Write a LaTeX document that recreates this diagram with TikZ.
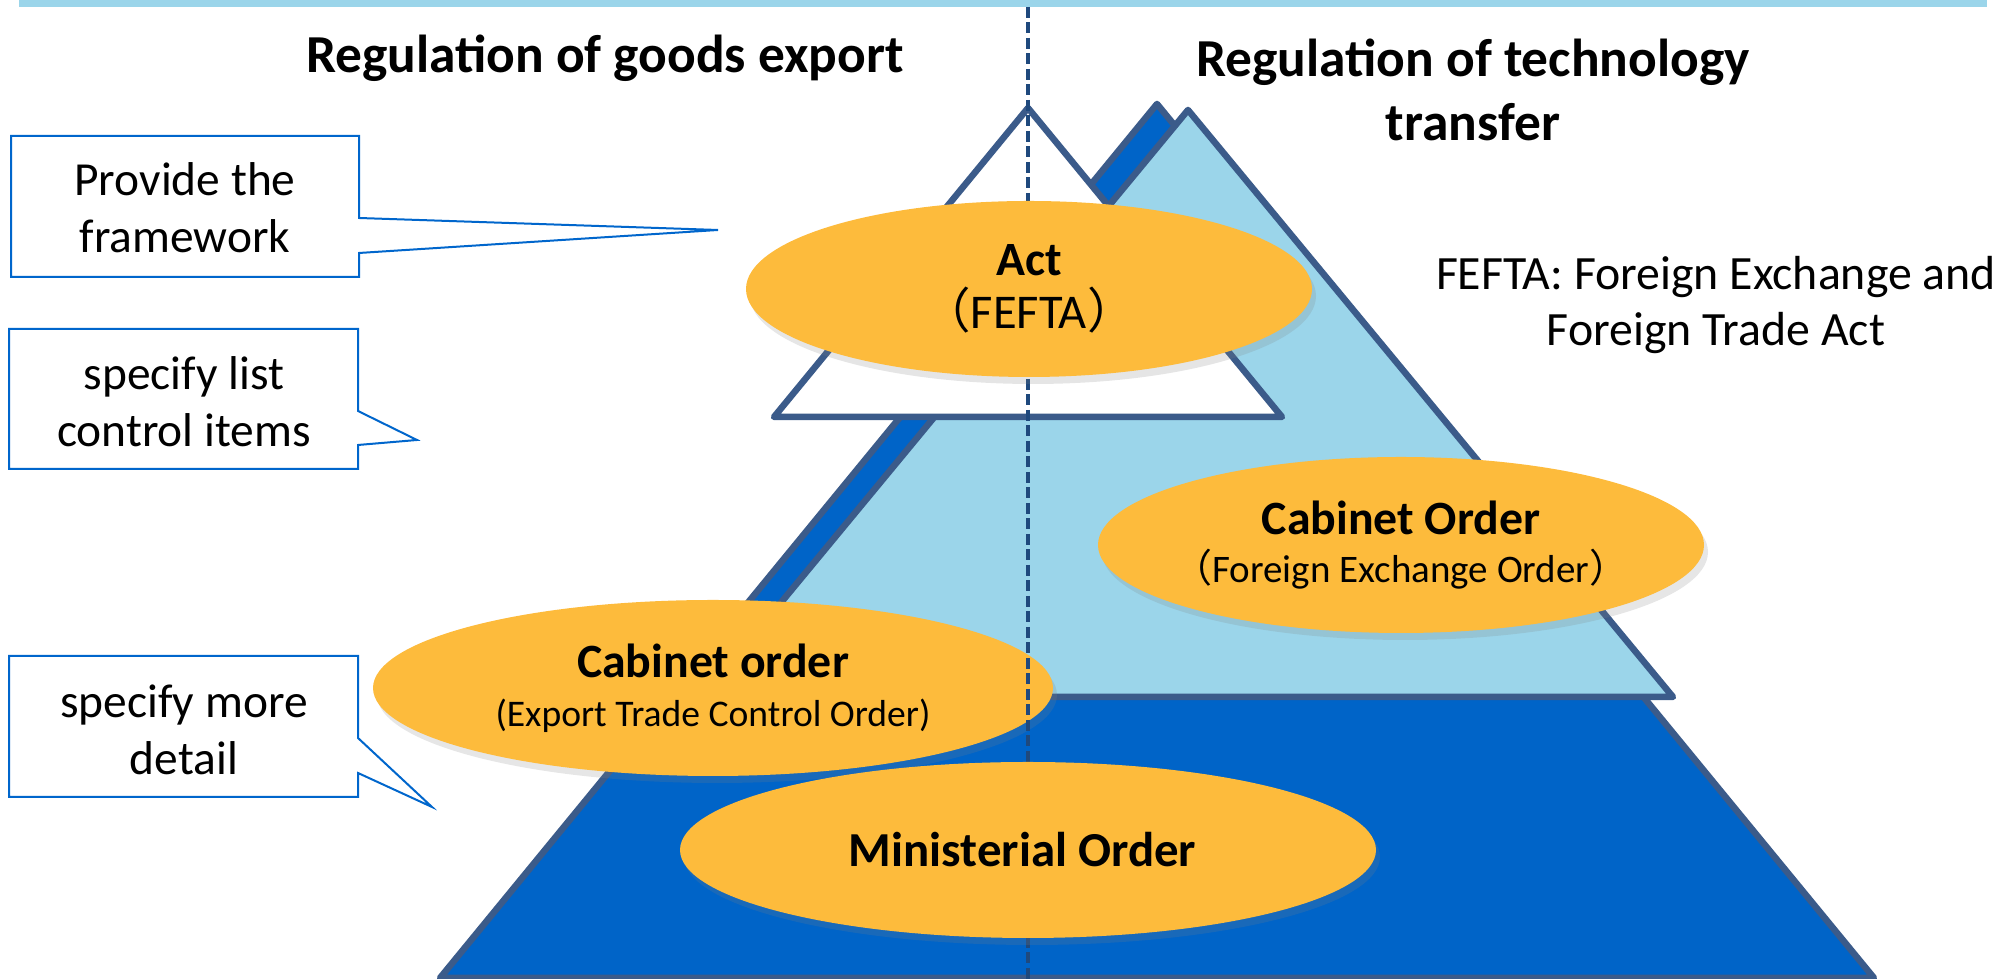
\documentclass[tikz,border=0pt]{standalone}
\usepackage{fontspec}
\setmainfont{Carlito}
\newfontfamily\cjk{Noto Sans CJK SC}
\usepackage{tikz}
\usetikzlibrary{shapes.geometric, shadows, positioning}
\definecolor{SkyFill}{RGB}{155,213,234}
\definecolor{RoyalFill}{RGB}{0,100,200}
\definecolor{EdgeSlate}{RGB}{59,91,138}
\definecolor{DashNavy}{RGB}{31,73,125}
\definecolor{AmberFill}{RGB}{253,187,60}
\definecolor{NoteBlue}{RGB}{0,102,204}

\begin{document}
\begin{tikzpicture}[x=0.1mm, y=-0.1mm,
		% the three pyramid layers
		tier/.style={draw=EdgeSlate, line width=0.65mm, line join=round},
		% the orange ovals
		orderOval/.style={
			ellipse,
			fill=AmberFill,
			inner sep=0pt,
			inner xsep=-2mm,
			align=center,
			minimum height=17.6mm,
			font=\fontsize{13.6}{15}\selectfont,
			drop shadow={shadow xshift=0.4mm, shadow yshift=-0.7mm, opacity=0.2}
		},
		noteBox/.style={draw=NoteBlue, line width=0.2mm, fill=white, line join=miter},
		noteText/.style={align=center, font=\fontsize{13.5}{16.2}\selectfont},
		headText/.style={align=center, font=\bfseries\fontsize{15.2}{18.2}\selectfont},
		splitLine/.style={DashNavy, line width=0.35mm, dash pattern=on 1.1mm off 0.45mm}
		]
		\useasboundingbox (0,0) rectangle (2009,979);
		
		% top band
		\fill[SkyFill] (19,0) rectangle (1987,7);
		
		% back layer: ministerial order
		\draw[tier, fill=RoyalFill] (1157,104) -- (1874,978) -- (440,978) -- cycle;
		% middle layer: cabinet order
		\draw[tier, fill=SkyFill] (1188,110) -- (1673,697) -- (703,697) -- cycle;
		% front layer: act
		\draw[tier, fill=white] (1028,108) -- (1282,417) -- (774,417) -- cycle;
		
		% cabinet order for goods
		\node[orderOval, minimum width=68mm] (goodsOrder) at (713,688) {
			\textbf{Cabinet order}\\[-0.4mm] {\fontsize{10.7}{12}\selectfont (Export Trade Control Order)}
		};
		
		% dividing line
		\coordinate (splitTop) at (1028,7);
		\coordinate (splitBottom) at (1028,979);
		\draw[splitLine] (splitTop) -- (splitBottom);
		
		% act
		\node[orderOval, minimum width=56.6mm] (actOval) at (1029,289) {
			\textbf{Act}\\ {\fontsize{13.8}{14}\selectfont{\cjk （}FEFTA{\cjk ）}}
		};
		
		% ministerial order
		\node[orderOval, minimum width=69.6mm, font=\fontsize{13.9}{15}\selectfont] (ministerOval) at (1028,850) {
			\textbf{Ministerial Order}
		};
		
		% cabinet order for technology
		\node[orderOval, minimum width=60.6mm] (techOrder) at (1401,545) {
			\textbf{Cabinet Order}\\[-0.4mm] {\fontsize{11.1}{12}\selectfont{\cjk （}Foreign Exchange Order{\cjk ）}}
		};
		
		% headings
		\node[headText] (goodsHead) at (605,58) {Regulation of goods export};
		\node[headText] (techHead) at (1473,90) {Regulation of technology\\transfer};
		\node[noteText, font=\fontsize{13.6}{16.2}\selectfont] (feftaNote) at (1716,305) {
			FEFTA: Foreign Exchange and\\Foreign Trade Act
		};
		
		% callout: framework
		\draw[noteBox] (11,136) -- (359,136) -- (359,218) -- (718,230) -- (359,253) -- (359,277) -- (11,277) -- cycle;
		\node[noteText] (frameNote) at (185,208) {Provide the\\framework};
		
		% callout: list items
		\draw[noteBox] (9,329) -- (358,329) -- (358,411) -- (417,440) -- (358,445) -- (358,469) -- (9,469) -- cycle;
		\node[noteText] (listNote) at (184,402) {specify list\\control items};
		
		% callout: detail
		\draw[noteBox] (9,656) -- (358,656) -- (358,738) -- (432,807) -- (358,773) -- (358,797) -- (9,797) -- cycle;
		\node[noteText] (detailNote) at (184,730) {specify more\\detail};
		
	\end{tikzpicture}
\end{document}
